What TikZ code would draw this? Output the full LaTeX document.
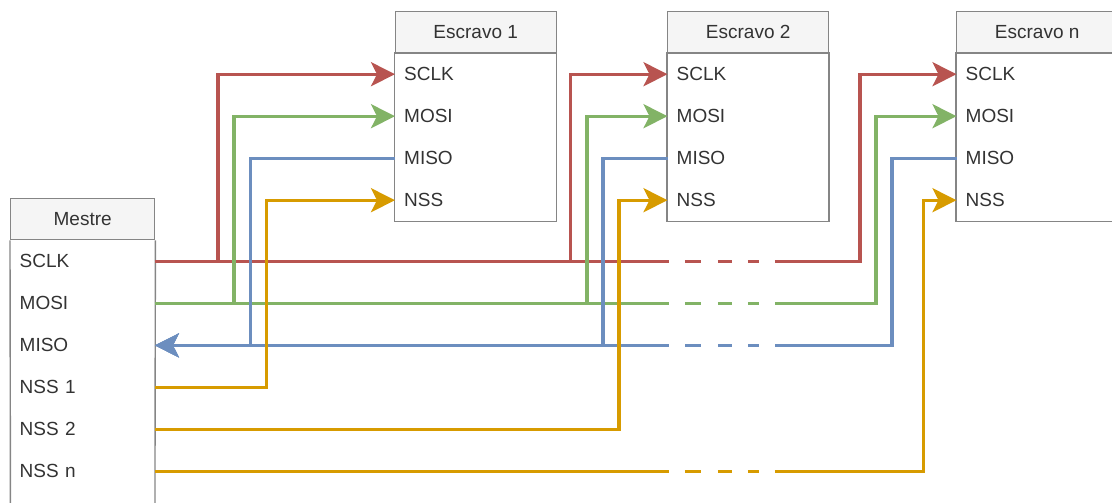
\documentclass[tikz,border=0pt]{standalone}
\usepackage{fontspec}
\setmainfont{Liberation Sans}
\usepackage{xcolor}
\usetikzlibrary{arrows.meta, positioning}
\definecolor{sclkred}{HTML}{B85450}
\definecolor{mosigreen}{HTML}{82B366}
\definecolor{misoblue}{HTML}{6C8EBF}
\definecolor{nssorange}{HTML}{D79B00}
\definecolor{boxgray}{HTML}{858585}
\definecolor{headgray}{HTML}{F5F5F5}
\definecolor{labelgray}{HTML}{333333}

\begin{document}
\begin{tikzpicture}[x=1pt, y=-1pt,
    >={Stealth[length=24pt, width=24pt, inset=6pt]},
    font=\fontsize{19}{23}\selectfont,
    head/.style={draw=boxgray, fill=headgray, line width=1.4pt, inner sep=0pt,
      minimum width=#1, minimum height=41pt, anchor=north west, text=labelgray},
    row/.style={inner xsep=9pt, inner ysep=0pt, text width=#1, align=left,
      minimum height=41.6pt, text=labelgray},
    outline/.style={draw=boxgray, line width=1.4pt},
    wire/.style={line width=3.2pt},
    sclk/.style={wire, draw=sclkred},
    mosi/.style={wire, draw=mosigreen},
    miso/.style={wire, draw=misoblue},
    nss/.style={wire, draw=nssorange},
    broken/.style={dash pattern=on 514pt off 16pt on 16pt off 17pt on 14pt off 16pt on 11pt off 16pt on 3000pt},
    brokenback/.style={dash pattern=on 369.2pt off 16pt on 11pt off 16pt on 14pt off 17pt on 16pt off 16pt on 3000pt}]

  \useasboundingbox (0,0) rectangle (1112,503);
  \clip (0,0) rectangle (1112,503);

  % Mestre
  \node[head=144pt] (m-head) at (10,198) {Mestre};
  \node[row=126pt, below=0pt of m-head] (m-sclk) {SCLK};
  \node[row=126pt, below=0pt of m-sclk] (m-mosi) {MOSI};
  \node[row=126pt, below=0pt of m-mosi] (m-miso) {MISO};
  \node[row=126pt, below=0pt of m-miso] (m-nss1) {NSS 1};
  \node[row=126pt, below=0pt of m-nss1] (m-nss2) {NSS 2};
  \node[row=126pt, below=0pt of m-nss2] (m-nssn) {NSS n};
  \draw[outline] (m-head.south west) -- ([yshift=-40pt]m-nssn.south west)
    -- ([yshift=-40pt]m-nssn.south east) -- (m-head.south east);

  % Escravo 1
  \node[head=161pt] (s1-head) at (394.5,10.8) {Escravo 1};
  \node[row=143pt, below=0pt of s1-head] (s1-sclk) {SCLK};
  \node[row=143pt, below=0pt of s1-sclk] (s1-mosi) {MOSI};
  \node[row=143pt, below=0pt of s1-mosi] (s1-miso) {MISO};
  \node[row=143pt, below=0pt of s1-miso] (s1-nss) {NSS};
  \draw[outline] (s1-head.south west) rectangle (s1-nss.south east);

  % Escravo 2
  \node[head=161pt] (s2-head) at (667,10.8) {Escravo 2};
  \node[row=143pt, below=0pt of s2-head] (s2-sclk) {SCLK};
  \node[row=143pt, below=0pt of s2-sclk] (s2-mosi) {MOSI};
  \node[row=143pt, below=0pt of s2-mosi] (s2-miso) {MISO};
  \node[row=143pt, below=0pt of s2-miso] (s2-nss) {NSS};
  \draw[outline] (s2-head.south west) rectangle (s2-nss.south east);

  % Escravo n
  \node[head=161pt] (sn-head) at (956,10.8) {Escravo n};
  \node[row=143pt, below=0pt of sn-head] (sn-sclk) {SCLK};
  \node[row=143pt, below=0pt of sn-sclk] (sn-mosi) {MOSI};
  \node[row=143pt, below=0pt of sn-mosi] (sn-miso) {MISO};
  \node[row=143pt, below=0pt of sn-miso] (sn-nss) {NSS};
  \draw[outline] (sn-head.south west) rectangle (sn-nss.south east);

  % Bends
  \coordinate (s1-xc) at (218,0);
  \coordinate (s1-xm) at (234,0);
  \coordinate (s1-xi) at (250.5,0);
  \coordinate (s1-xn) at (266.3,0);
  \coordinate (s2-xc) at (570.7,0);
  \coordinate (s2-xm) at (587,0);
  \coordinate (s2-xi) at (603,0);
  \coordinate (s2-xn) at (619,0);
  \coordinate (sn-xc) at (860,0);
  \coordinate (sn-xm) at (876,0);
  \coordinate (sn-xi) at (892,0);
  \coordinate (sn-xn) at (923.3,0);

  % Wires to Escravo n
  \draw[sclk, broken, ->] (m-sclk.east) -- (m-sclk.east -| sn-xc) |- (sn-sclk.west);
  \draw[mosi, broken, ->] (m-mosi.east) -- (m-mosi.east -| sn-xm) |- (sn-mosi.west);
  \draw[miso, brokenback, ->] (sn-miso.west) -| (sn-xi |- m-miso.east) -- (m-miso.east);
  \draw[nss, broken, ->] (m-nssn.east) -- (m-nssn.east -| sn-xn) |- (sn-nss.west);

  % Wires to Escravo 2
  \draw[sclk, ->] (m-sclk.east) -- (m-sclk.east -| s2-xc) |- (s2-sclk.west);
  \draw[mosi, ->] (m-mosi.east) -- (m-mosi.east -| s2-xm) |- (s2-mosi.west);
  \draw[miso, ->] (s2-miso.west) -| (s2-xi |- m-miso.east) -- (m-miso.east);
  \draw[nss, ->] (m-nss2.east) -- (m-nss2.east -| s2-xn) |- (s2-nss.west);

  % Wires to Escravo 1
  \draw[sclk, ->] (m-sclk.east) -- (m-sclk.east -| s1-xc) |- (s1-sclk.west);
  \draw[mosi, ->] (m-mosi.east) -- (m-mosi.east -| s1-xm) |- (s1-mosi.west);
  \draw[miso, ->] (s1-miso.west) -| (s1-xi |- m-miso.east) -- (m-miso.east);
  \draw[nss, ->] (m-nss1.east) -- (m-nss1.east -| s1-xn) |- (s1-nss.west);

\end{tikzpicture}
\end{document}
